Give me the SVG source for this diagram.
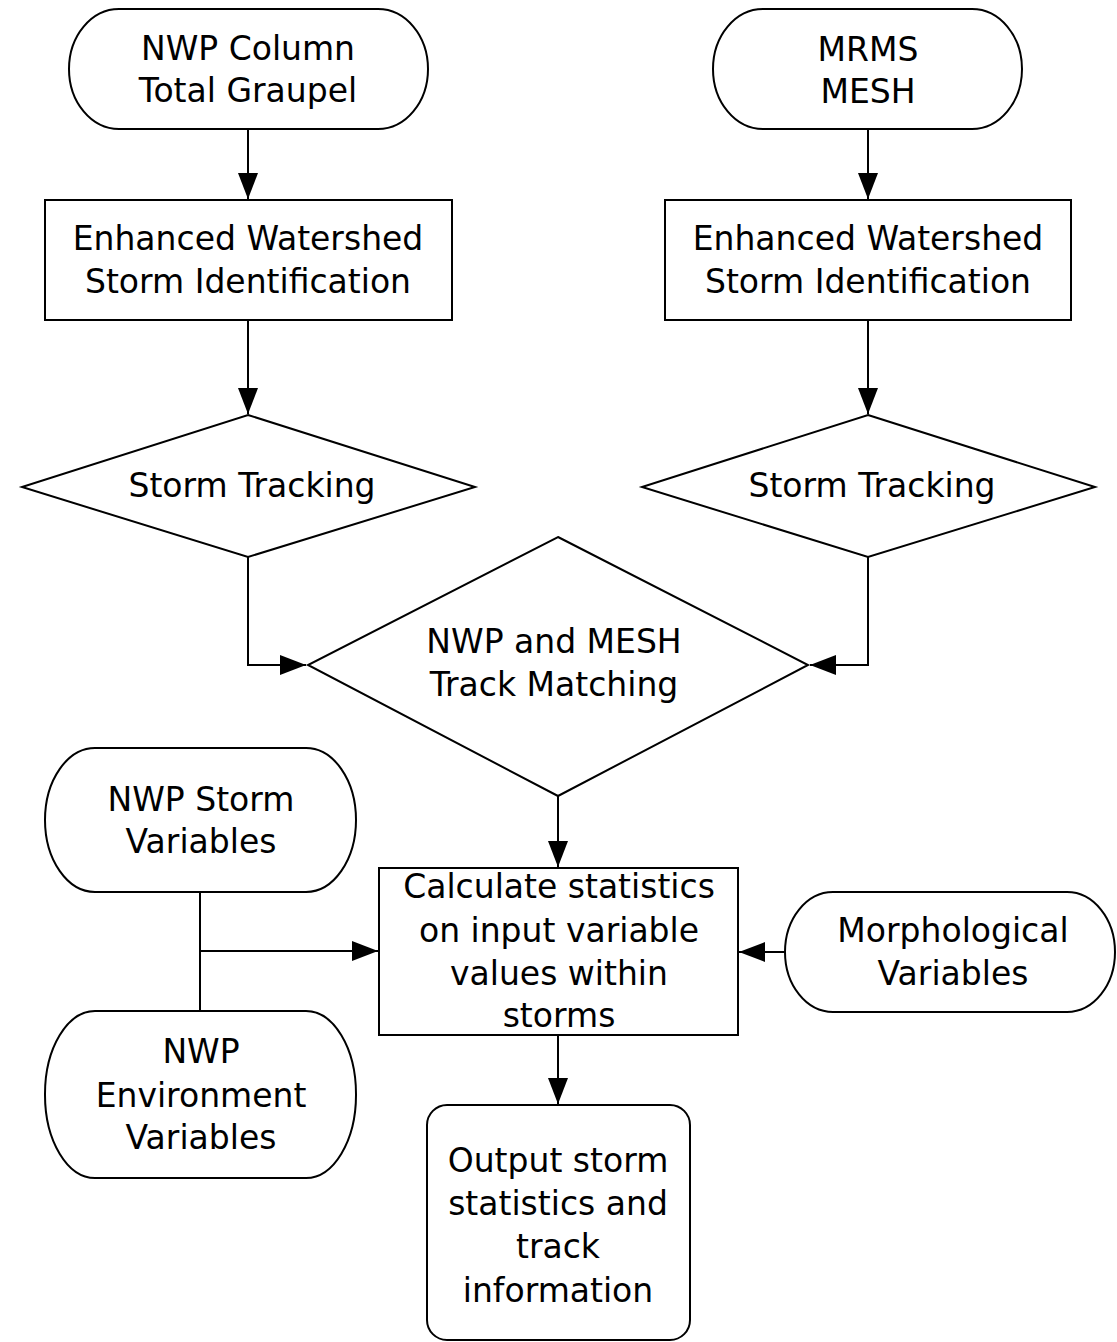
<svg xmlns="http://www.w3.org/2000/svg" width="1117" height="1342" viewBox="0 0 1117 1342">
<style>
.s{fill:#fff;stroke:#000;stroke-width:2}
.c{fill:none;stroke:#000;stroke-width:2}
text{font-family:"DejaVu Sans","Liberation Sans",sans-serif;font-size:33px;fill:#000;text-anchor:middle}
</style>
<defs>
<marker id="ah" markerUnits="userSpaceOnUse" markerWidth="26" markerHeight="20" refX="26" refY="10" orient="auto">
<path d="M0,0 L26,10 L0,20 z" fill="#000"/>
</marker>
</defs>
<rect width="1117" height="1342" fill="#fff"/>
<g id="connectors">
<line class="c" x1="248" y1="129" x2="248" y2="199" marker-end="url(#ah)"/>
<line class="c" x1="868" y1="129" x2="868" y2="199" marker-end="url(#ah)"/>
<line class="c" x1="248" y1="320" x2="248" y2="414" marker-end="url(#ah)"/>
<line class="c" x1="868" y1="320" x2="868" y2="414" marker-end="url(#ah)"/>
<polyline class="c" points="248,557 248,665 306,665" marker-end="url(#ah)"/>
<polyline class="c" points="868,557 868,665 810,665" marker-end="url(#ah)"/>
<line class="c" x1="558" y1="796" x2="558" y2="867" marker-end="url(#ah)"/>
<line class="c" x1="200" y1="892" x2="200" y2="1011"/>
<line class="c" x1="200" y1="951" x2="378" y2="951" marker-end="url(#ah)"/>
<line class="c" x1="785" y1="952" x2="739" y2="952" marker-end="url(#ah)"/>
<line class="c" x1="558" y1="1035" x2="558" y2="1104" marker-end="url(#ah)"/>
</g>
<g id="nwp-graupel">
<rect class="s" x="69" y="9" width="359" height="120" rx="50" ry="60"/>
<text x="248" y="60">NWP Column</text>
<text x="248" y="102">Total Graupel</text>
</g>
<g id="mrms-mesh">
<rect class="s" x="713" y="9" width="309" height="120" rx="50" ry="60"/>
<text x="868" y="61">MRMS</text>
<text x="868" y="103">MESH</text>
</g>
<g id="ews-left">
<rect class="s" x="45" y="200" width="407" height="120"/>
<text x="248" y="250">Enhanced Watershed</text>
<text x="248" y="293">Storm Identification</text>
</g>
<g id="ews-right">
<rect class="s" x="665" y="200" width="406" height="120"/>
<text x="868" y="250">Enhanced Watershed</text>
<text x="868" y="293">Storm Identification</text>
</g>
<g id="track-left">
<polygon class="s" points="248,415 475,487 248,557 22,487"/>
<text x="252" y="497">Storm Tracking</text>
</g>
<g id="track-right">
<polygon class="s" points="868,415 1095,487 868,557 642,487"/>
<text x="872" y="497">Storm Tracking</text>
</g>
<g id="matching">
<polygon class="s" points="558,537 808,665 558,796 308,665"/>
<text x="554" y="653">NWP and MESH</text>
<text x="554" y="696">Track Matching</text>
</g>
<g id="nwp-storm-vars">
<rect class="s" x="45" y="748" width="311" height="144" rx="50" ry="72"/>
<text x="201" y="811">NWP Storm</text>
<text x="201" y="853">Variables</text>
</g>
<g id="nwp-env-vars">
<rect class="s" x="45" y="1011" width="311" height="167" rx="50" ry="83"/>
<text x="201" y="1063">NWP</text>
<text x="201" y="1107">Environment</text>
<text x="201" y="1149">Variables</text>
</g>
<g id="calc-stats">
<rect class="s" x="379" y="868" width="359" height="167"/>
<text x="559" y="898">Calculate statistics</text>
<text x="559" y="942">on input variable</text>
<text x="559" y="985">values within</text>
<text x="559" y="1027">storms</text>
</g>
<g id="morph-vars">
<rect class="s" x="785" y="892" width="330" height="120" rx="48" ry="60"/>
<text x="953" y="942">Morphological</text>
<text x="953" y="985">Variables</text>
</g>
<g id="output">
<rect class="s" x="427" y="1105" width="263" height="235" rx="20" ry="20"/>
<text x="558" y="1172">Output storm</text>
<text x="558" y="1215">statistics and</text>
<text x="558" y="1258">track</text>
<text x="558" y="1302">information</text>
</g>
</svg>
